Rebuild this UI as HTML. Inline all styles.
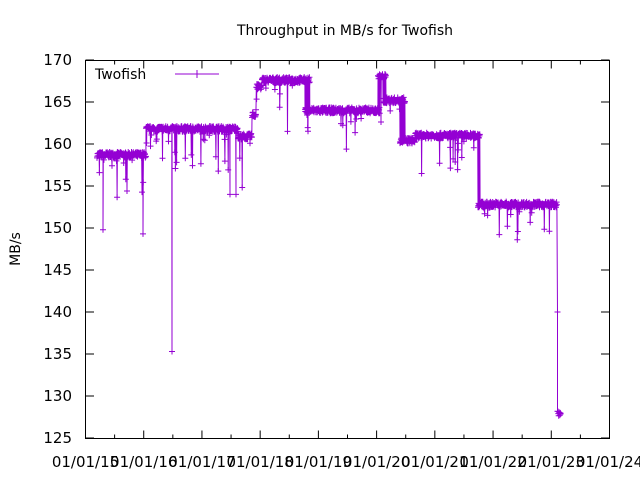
<!DOCTYPE html>
<html><head><meta charset="utf-8"><style>
body{margin:0;background:#fff;}
svg{display:block;font-family:"DejaVu Sans",sans-serif;}
</style></head><body>
<svg id="s" width="640" height="480" xmlns="http://www.w3.org/2000/svg">
<rect width="640" height="480" fill="#fff"/>
<text x="345" y="35" font-size="14" text-anchor="middle">Throughput in MB/s for Twofish</text>
<text transform="translate(20,249) rotate(-90)" font-size="14" text-anchor="middle">MB/s</text>
<g id="ax" font-size="15" fill="#000"></g>
<g id="data"></g>
<rect x="85.5" y="60.5" width="524" height="378" fill="none" stroke="#000" stroke-width="1"/>
<text x="95" y="79" font-size="14">Twofish</text>
<line x1="175" y1="74" x2="219" y2="74" stroke="#9400d3"/>
<line x1="197" y1="70" x2="197" y2="78" stroke="#9400d3"/>
</svg>
<script>
var ns="http://www.w3.org/2000/svg",ax=document.getElementById('ax');
function Y(v){return 438-(v-125)*8.4;}
var h='';
for(var v=125;v<=170;v+=5){var y=Y(v);h+='<line x1="85.5" y1="'+y+'" x2="94" y2="'+y+'" stroke="#000"/><line x1="601" y1="'+y+'" x2="609.5" y2="'+y+'" stroke="#000"/><text x="72" y="'+(y+5)+'" text-anchor="end">'+v+'</text>';}
for(var i=0;i<=18;i++){var x=85.5+i*524/18,l=i%2?4:8;h+='<line x1="'+x+'" y1="438.5" x2="'+x+'" y2="'+(438.5-l)+'" stroke="#000"/><line x1="'+x+'" y1="60.5" x2="'+x+'" y2="'+(60.5+l)+'" stroke="#000"/>';if(i%2==0)h+='<text x="'+x+'" y="467" text-anchor="middle">01/01/'+(15+i/2)+'</text>';}
ax.innerHTML=h;
var seed=7;function r(){seed=(seed*16807)%2147483647;return seed/2147483647;}
var seg=[[97,146,158.7],[146,238,161.8],[238,252,160.9],[252,256,163.5],[256,262,166.8],[262,310,167.6],[305,380,164],[378,386,168],[383,405,165.2],[400,415,160.4],[415,480,161],[478,557,152.8]];
var pts=[];
seg.forEach(function(s){for(var x=s[0];x<s[1];x+=0.3){var v=s[2]+(r()-0.5)*0.7;if(r()<0.06)v-=r()*r()*7;pts.push([x,v]);}});
var special={103:149.8,143:149.3,172:135.3,230:154,236:154};
for(var k in special)pts.push([+k,special[k]]);
pts.sort(function(a,b){return a[0]-b[0];});
pts.push([557.5,140]);for(var x=557.5;x<561;x+=0.4)pts.push([x,127.9+(r()-0.5)*0.6]);
var d='',m='';
pts.forEach(function(p,i){var x=p[0].toFixed(1),y=Y(p[1]).toFixed(1);d+=(i?'L':'M')+x+' '+y;m+='M'+(p[0]-3).toFixed(1)+' '+y+'h6M'+x+' '+(Y(p[1])-3).toFixed(1)+'v6';});
document.getElementById('data').innerHTML='<path d="'+d+'" fill="none" stroke="#9400d3" stroke-width="1"/><path d="'+m+'" fill="none" stroke="#9400d3" stroke-width="1"/>';
</script>
</body></html>
